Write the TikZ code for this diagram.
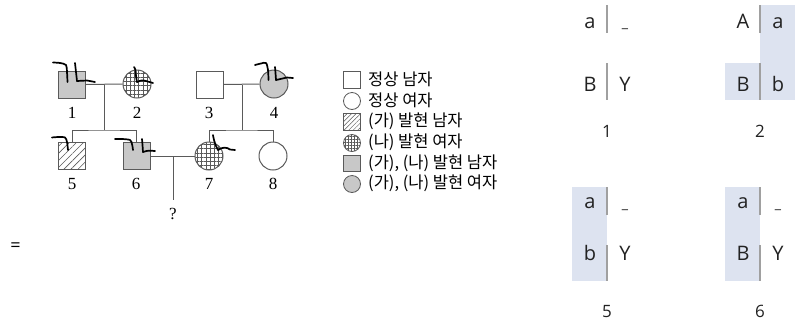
\documentclass[tikz,border=0pt]{standalone}
\usepackage{fontspec}
\setmainfont{Liberation Serif}
\newfontfamily\kr{Noto Sans CJK KR}
\newfontfamily\chr{Open Sans}
\usetikzlibrary{patterns.meta}
\definecolor{pedline}{HTML}{5A5A5A}
\definecolor{pedfill}{HTML}{C8C8C8}
\definecolor{chshade}{HTML}{DDE3F0}
\definecolor{chline}{HTML}{A0A0A0}
\definecolor{chtext}{HTML}{222222}
\tikzset{
  x=1pt,y=-1pt,
  male/.style={draw=pedline,line width=1pt,rectangle,minimum size=27pt,inner sep=0pt},
  female/.style={draw=pedline,line width=1pt,circle,minimum size=28pt,inner sep=0pt},
  affboth/.style={fill=pedfill},
  affga/.style={pattern={Lines[angle=45,distance=5pt,line width=0.6pt]},pattern color=pedline},
  affna/.style={pattern={Hatch[angle=0,distance=4.2pt,line width=0.6pt]},pattern color=pedline},
  lmale/.style={draw=pedline,line width=0.8pt,rectangle,minimum size=16.5pt,inner sep=0pt},
  lfemale/.style={draw=pedline,line width=0.8pt,circle,minimum size=17pt,inner sep=0pt},
  lgaf/.style={pattern={Lines[angle=45,distance=3.2pt,line width=0.5pt]},pattern color=pedline},
  lnaf/.style={pattern={Hatch[angle=0,distance=3pt,line width=0.5pt]},pattern color=pedline},
  conn/.style={draw=pedline,line width=1pt},
  num/.style={font=\fontsize{17}{17}\selectfont,inner sep=0pt,anchor=base},
  legtxt/.style={font=\kr\fontsize{16.5}{16.5}\selectfont,inner sep=0pt,anchor=west},
  scribble/.style={draw=black,line width=1.7pt,line cap=round,line join=round},
  chtxt/.style={font=\chr\fontsize{20}{20}\selectfont,text=chtext,inner sep=0pt,anchor=base},
  chnum/.style={font=\chr\fontsize{17}{17}\selectfont,text=chtext,inner sep=0pt,anchor=base},
  chdash/.style={font=\chr\fontsize{14}{14}\selectfont,text=chtext,inner sep=0pt,anchor=base},
  chbar/.style={draw=chline,line width=1.3pt},
}
\begin{document}
\begin{tikzpicture}
\useasboundingbox (0,0) rectangle (795,325);
% ---------- pedigree ----------
\node[male,affboth] (n1) at (72,84.5) {};
\node[female,affna] (n2) at (137,84) {};
\node[male] (n3) at (209.5,84.5) {};
\node[female,affboth] (n4) at (274,84) {};
\node[male,affga] (n5) at (72,156) {};
\node[male,affboth] (n6) at (136.5,156) {};
\node[female,affna] (n7) at (209,156) {};
\node[female] (n8) at (273,156) {};
\coordinate (m12) at (104,84.5);
\coordinate (s12) at (104,130);
\coordinate (m34) at (242,84.5);
\coordinate (s34) at (242,130);
\coordinate (m67) at (173,156);
\coordinate (q) at (173,200);
\draw[conn] (n1.east) -- (n2.west);
\draw[conn] (m12) -- (s12);
\draw[conn] (n5.north) |- (s12) -| (n6.north);
\draw[conn] (n3.east) -- (n4.west);
\draw[conn] (m34) -- (s34);
\draw[conn] (n7.north) |- (s34) -| (n8.north);
\draw[conn] (n6.east) -- (n7.west);
\draw[conn] (m67) -- (q);
\node[num] (l1) at (72,118) {1};
\node[num] (l2) at (137,118) {2};
\node[num] (l3) at (209,118) {3};
\node[num] (l4) at (274,118) {4};
\node[num] (l5) at (72,189) {5};
\node[num] (l6) at (136,189) {6};
\node[num] (l7) at (209,189) {7};
\node[num] (l8) at (273,189) {8};
\node[num] (lq) at (173,219) {?};
% scribbles
\draw[scribble] plot[smooth] coordinates {(53,62.5) (60,63) (66,65) (67,72) (67.5,82)};
\draw[scribble] plot[smooth] coordinates {(75,63) (76,72) (77,81)};
\draw[scribble] (77,81) .. controls (82,80) .. (87,80.5) .. controls (91,81) .. (95,82);
\draw[scribble] plot[smooth] coordinates {(134,67) (135.5,70) (136,76) (137,82)};
\draw[scribble] (137,82) .. controls (142,80) .. (146,81) .. controls (150,82) .. (153,83);
\draw[scribble] plot[smooth] coordinates {(255,65) (261,63.5) (266,63) (268,70) (268.5,80)};
\draw[scribble] plot[smooth] coordinates {(275,67) (275.5,73) (276,80)};
\draw[scribble] (276,80) .. controls (281,78) .. (287,77.5) .. controls (290,77.5) .. (293,78);
\draw[scribble] plot[smooth] coordinates {(52,137.5) (58,137) (65,137.5) (67,142) (68,150)};
\draw[scribble] plot[smooth] coordinates {(115,139) (122,139) (130,140) (132,144) (133,150)};
\draw[scribble] plot[smooth] coordinates {(142,139) (142.5,145) (143,152)};
\draw[scribble] (143,152) .. controls (148,150.5) .. (155,151);
\draw[scribble] plot[smooth] coordinates {(213,135) (214,140) (216,146) (218,150)};
\draw[scribble] (218,150) .. controls (222,147) and (227,147) .. (230,149.5) .. controls (232,150.5) .. (235,150);
% ---------- legend ----------
\node[lmale] (g1) at (352,80) {};
\node[lfemale] (g2) at (352,101) {};
\node[lmale,lgaf] (g3) at (352,122) {};
\node[lfemale,lnaf] (g4) at (352,143) {};
\node[lmale,affboth] (g5) at (352,163.5) {};
\node[lfemale,affboth] (g6) at (352,184) {};
\node[legtxt] (t1) at (368,79.5) {정상 남자};
\node[legtxt] (t2) at (368,100.5) {정상 여자};
\node[legtxt] (t3) at (368,121.5) {(가) 발현 남자};
\node[legtxt] (t4) at (368,142.5) {(나) 발현 여자};
\node[legtxt] (t5) at (368,163) {(가), (나) 발현 남자};
\node[legtxt] (t6) at (368,183.5) {(가), (나) 발현 여자};
% ---------- equals ----------
\node[font=\chr\fontsize{18}{18}\selectfont,inner sep=0pt] (eq) at (15.5,247) {=};
% ---------- chromosome 1 ----------
\draw[chbar] (607,5) -- (607,33);
\draw[chbar] (607,63) -- (607,100);
\node[chtxt] (c1a) at (590,28) {a};
\node[chdash] (c1d) at (625,27) {\_};
\node[chtxt] (c1B) at (590,91) {B};
\node[chtxt] (c1Y) at (625,91) {Y};
\node[chnum] (c1n) at (607,137) {1};
% ---------- chromosome 2 ----------
\fill[chshade] (760,5) rectangle (795,100);
\fill[chshade] (725,63) rectangle (760,100);
\draw[chbar] (760,5) -- (760,33);
\draw[chbar] (760,63) -- (760,100);
\node[chtxt] (c2A) at (743,28) {A};
\node[chtxt] (c2a) at (778,28) {a};
\node[chtxt] (c2B) at (743,91) {B};
\node[chtxt] (c2b) at (778,91) {b};
\node[chnum] (c2n) at (760,137) {2};
% ---------- chromosome 5 ----------
\fill[chshade] (572,187) rectangle (607,281);
\draw[chbar] (607,187) -- (607,215);
\draw[chbar] (607,245) -- (607,281);
\node[chtxt] (c5a) at (590,208) {a};
\node[chdash] (c5d) at (625,208) {\_};
\node[chtxt] (c5b) at (590,260) {b};
\node[chtxt] (c5Y) at (625,260) {Y};
\node[chnum] (c5n) at (607,317) {5};
% ---------- chromosome 6 ----------
\fill[chshade] (725,187) rectangle (760,281);
\draw[chbar] (760,187) -- (760,215);
\draw[chbar] (760,245) -- (760,281);
\node[chtxt] (c6a) at (743,208) {a};
\node[chdash] (c6d) at (778,208) {\_};
\node[chtxt] (c6B) at (743,260) {B};
\node[chtxt] (c6Y) at (778,260) {Y};
\node[chnum] (c6n) at (760,317) {6};
\end{tikzpicture}
\end{document}
